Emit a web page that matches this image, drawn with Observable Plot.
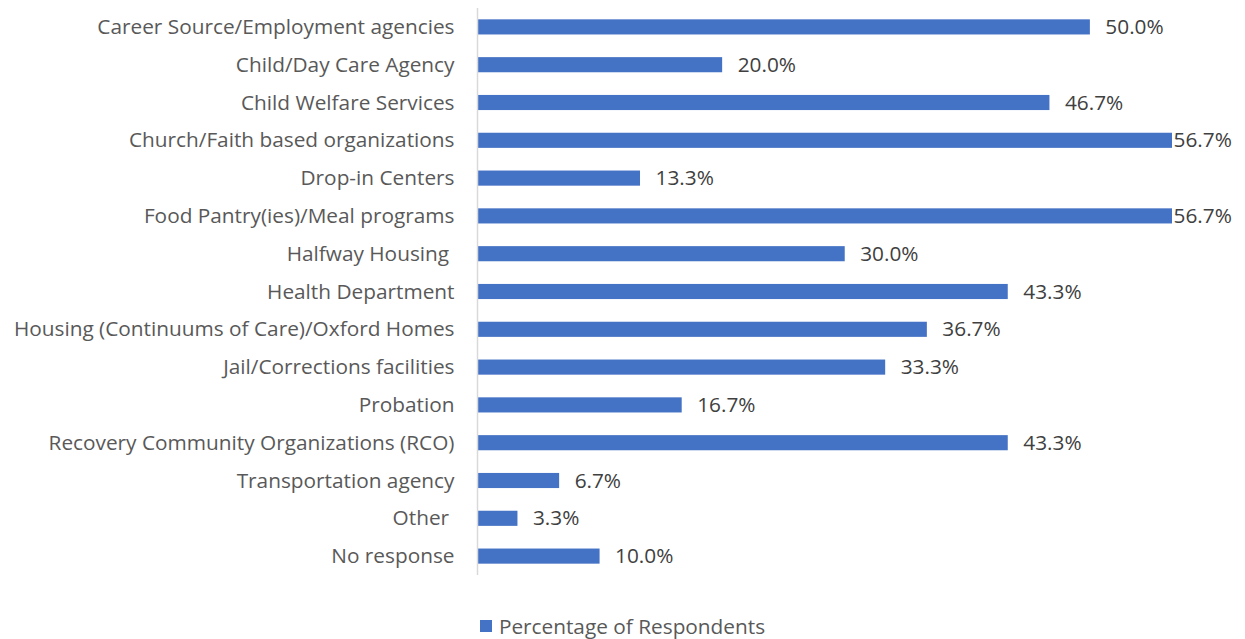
<!DOCTYPE html>
<html>
<head>
<meta charset="utf-8">
<script src="https://cdn.jsdelivr.net/npm/d3@7"></script>
<script src="https://cdn.jsdelivr.net/npm/@observablehq/plot@0.6"></script>
<style>
  html, body { margin: 0; padding: 0; background: #fff; }
  #chart { width: 1245px; }
  .legend { display: flex; justify-content: center; align-items: center; margin-top: 22px;
    font-family: "Open Sans", sans-serif; font-size: 20.8px; color: #595959; }
  .legend .sw { width: 12px; height: 12px; background: #4472C4; margin-right: 7px; margin-left: 0px; }
</style>
</head>
<body>
<div id="chart"></div>
<script>
const categories = [
  "Career Source/Employment agencies",
  "Child/Day Care Agency",
  "Child Welfare Services",
  "Church/Faith based organizations",
  "Drop-in Centers",
  "Food Pantry(ies)/Meal programs",
  "Halfway Housing ",
  "Health Department",
  "Housing (Continuums of Care)/Oxford Homes",
  "Jail/Corrections facilities",
  "Probation",
  "Recovery Community Organizations (RCO)",
  "Transportation agency",
  "Other ",
  "No response"
];
const values = [50.0, 20.0, 46.7, 56.7, 13.3, 56.7, 30.0, 43.3, 36.7, 33.3, 16.7, 43.3, 6.7, 3.3, 10.0];
const seriesName = "Percentage of Respondents";

const data = categories.map((c, i) => ({category: c, value: values[i]}));
const maxV = d3.max(values);
const fmt = v => v.toFixed(1) + "%";

const chart = Plot.plot({
  width: 1245,
  height: 590,
  marginLeft: 477,
  marginRight: 73,
  marginTop: 8,
  marginBottom: 15,
  style: {fontFamily: "'Open Sans', sans-serif", fontSize: "20.8px", color: "#595959", background: "#fff"},
  x: {domain: [0, maxV], axis: null},
  y: {domain: categories, paddingInner: 0.6, paddingOuter: 0.3, round: false, label: null},
  marks: [
    Plot.barX(data, {x: "value", y: "category", fill: "#4472C4"}),
    Plot.ruleX([0], {stroke: "#d9d9d9", strokeWidth: 1.5}),
    Plot.axisY({tickSize: 0, tickPadding: 23, label: null, fontSize: 20.8, fill: "#595959"}),
    Plot.text(data.filter(d => d.value < maxV), {x: "value", y: "category", text: d => fmt(d.value),
      textAnchor: "start", dx: 15, fontSize: 20.8, fill: "#404040"}),
    Plot.text(data.filter(d => d.value >= maxV), {x: "value", y: "category", text: d => fmt(d.value),
      textAnchor: "start", dx: 1, fontSize: 20.8, fill: "#404040"})
  ]
});
document.getElementById("chart").appendChild(chart);
const lg = document.createElement("div");
lg.className = "legend";
lg.innerHTML = '<span class="sw"></span><span></span>';
lg.lastChild.textContent = seriesName;
document.getElementById("chart").appendChild(lg);
</script>
</body>
</html>
